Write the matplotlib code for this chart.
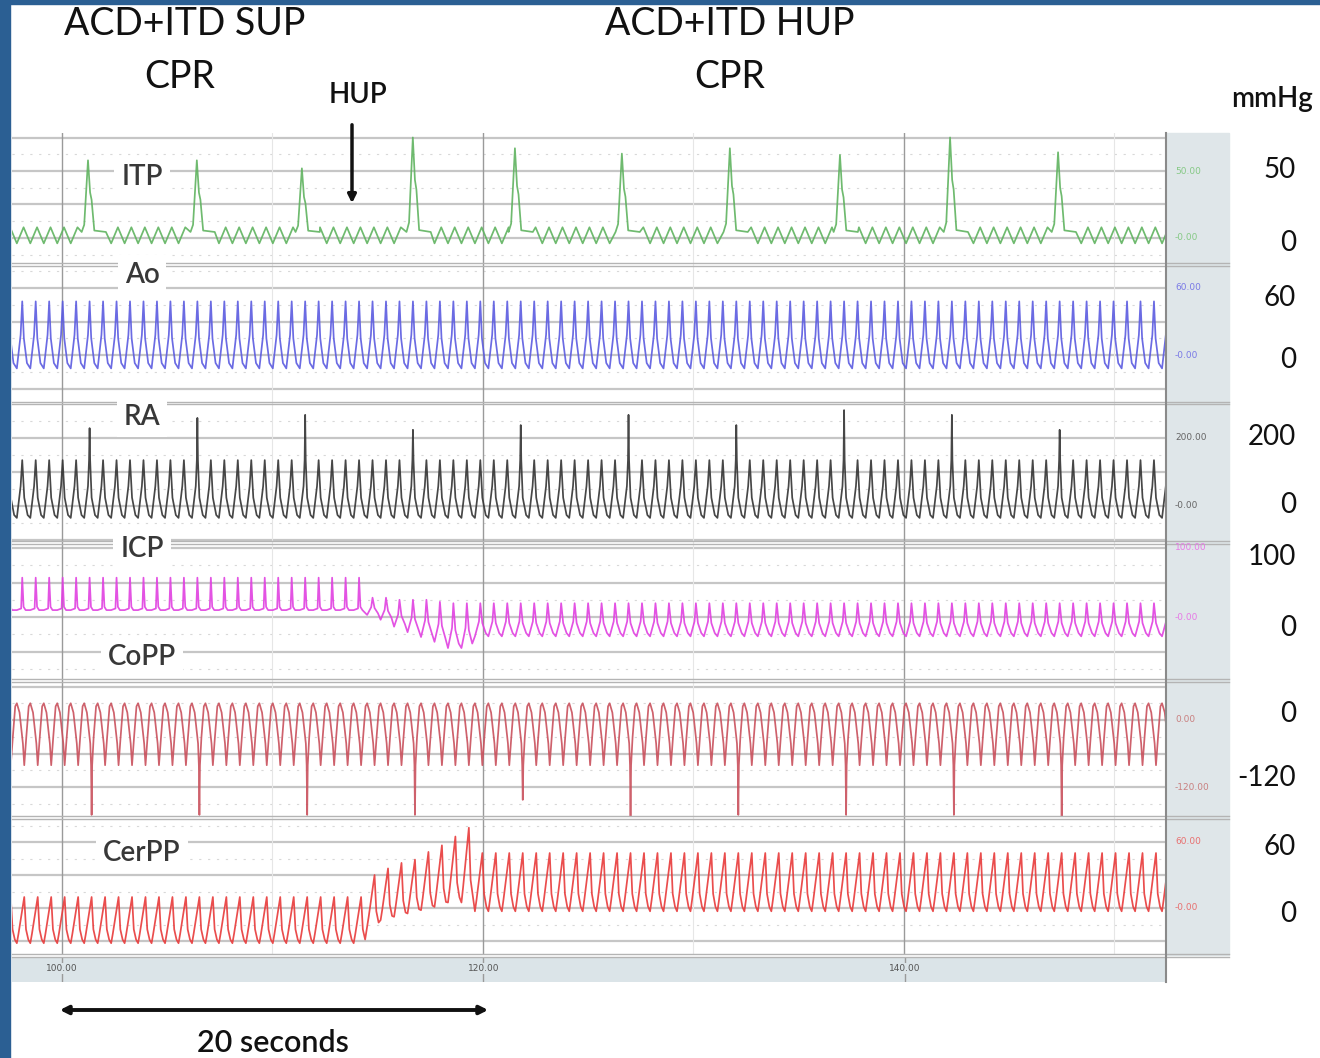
import numpy as np
import matplotlib
matplotlib.use('Agg')
import matplotlib.pyplot as plt
from matplotlib.patches import Rectangle, FancyArrowPatch

# ------------------------------------------------------------------ data
channels = ['ITP', 'Ao', 'RA', 'ICP', 'CoPP', 'CerPP']
scale_values = [(50, 0), (60, 0), (200, 0), (100, 0), (0, -120), (60, 0)]
panel_scale_text = [('50.00', '-0.00'), ('60.00', '-0.00'), ('200.00', '-0.00'),
                    ('100.00', '-0.00'), ('0.00', '-120.00'), ('60.00', '-0.00')]
right_labels = [('50', '0'), ('60', '0'), ('200', '0'), ('100', '0'), ('0', '-120'), ('60', '0')]
time_ticks = [100, 120, 140]
time_tick_labels = ['100.00', '120.00', '140.00']
minor_time_lines = [110, 130, 150]
t_range = (97.63, 152.40)

# start time (s) of each chest compression cycle
beat_starts = [97.22, 97.86, 98.50, 99.14, 99.78, 100.42, 101.06, 101.70, 102.34, 102.98,
               103.62, 104.26, 104.90, 105.54, 106.18, 106.82, 107.46, 108.10, 108.74, 109.38,
               110.02, 110.66, 111.30, 111.94, 112.58, 113.22, 113.86, 114.50, 115.14, 115.78,
               116.42, 117.06, 117.70, 118.34, 118.98, 119.62, 120.26, 120.90, 121.54, 122.18,
               122.82, 123.46, 124.10, 124.74, 125.38, 126.02, 126.66, 127.30, 127.94, 128.58,
               129.22, 129.86, 130.50, 131.14, 131.78, 132.42, 133.06, 133.70, 134.34, 134.98,
               135.62, 136.26, 136.90, 137.54, 138.18, 138.82, 139.46, 140.10, 140.74, 141.38,
               142.02, 142.66, 143.30, 143.94, 144.58, 145.22, 145.86, 146.50, 147.14, 147.78,
               148.42, 149.06, 149.70, 150.34, 150.98, 151.62, 152.26, 152.90]

hup_start, hup_end = 114.4, 119.3     # head-up positioning transition (s)

# ventilations
vent_times = [101.24, 106.41, 111.40, 116.67, 121.52, 126.60, 131.73, 136.96, 142.19, 147.32]
itp_vent_peaks = [58, 58, 52, 75, 67, 63, 67, 62, 75, 64]
spike_times = [101.57, 106.65, 111.78, 116.82, 121.85, 126.89, 132.02, 137.10, 142.28, 147.46]
ra_spikes = [229, 259, 268, 224, 238, 268, 238, 282, 268, 224]
copp_spikes = [-170, -170, -170, -170, -143, -176, -170, -170, -170, -174]

# (trough, peak) levels in mmHg
itp_ripple = (-4, 8)
itp_plateau = 4.5
ao_pre, ao_post = (-12, 48), (-12, 48)
ra_pre, ra_post = (-35, 135), (-35, 135)
icp_pre, icp_post = (10, 57), (-28, 20)
icp_trans_troughs = [3, -4, -14, -22, -29, -36, -45, -45]
icp_trans_peaks = [28, 28, 25, 25, 25, 22, 20, 20]
copp_pre, copp_post = (-81, 30), (-81, 30)
cerpp_pre, cerpp_post = (-32, 10), (-3, 50)
cerpp_trans_troughs = [-17, -11, -8, -5, -2, 1, 5, 5]
cerpp_trans_peaks = [30, 36, 41, 44, 51, 57, 65, 73]

# one-cycle wave shapes: (phase within cycle, fraction trough->peak)
shape_itp = ([0.0, 0.5], [0.0, 1.0])
shape_ao = ([0.0, 0.28, 0.40, 0.52, 0.75], [0.0, 0.5, 1.0, 0.45, 0.08])
shape_ra = ([0.0, 0.28, 0.40, 0.55, 0.80], [0.0, 0.55, 1.0, 0.35, 0.05])
shape_icp_pre = ([0.0, 0.32, 0.40, 0.50, 0.65], [0.0, 0.05, 1.0, 0.1, 0.0])
shape_icp_post = ([0.0, 0.30, 0.40, 0.55, 0.80], [0.0, 0.45, 1.0, 0.4, 0.1])
shape_copp = ([0.0, 0.20, 0.45, 0.55, 0.70, 0.88], [1.0, 0.85, 0.35, 0.0, 0.45, 0.95])
shape_cerpp = ([0.0, 0.12, 0.55, 0.68, 0.85], [0.0, 0.2, 1.0, 0.3, 0.08])
# ventilation pulse on ITP: time from peak (s), fraction of pulse height above plateau
itp_vent_dt = [-0.30, -0.18, 0.0, 0.10, 0.17, 0.30, 0.85]
itp_vent_f = [0.0, 0.1, 1.0, 0.55, 0.45, 0.02, 0.0]

colors = {'ITP': '#5fb35f', 'Ao': '#5b5be0', 'RA': '#333333', 'ICP': '#e040e0',
          'CoPP': '#c9505c', 'CerPP': '#e83a3a'}
label_colors = ['#86c986', '#7a7ae6', '#666666', '#e67ae6', '#c98080', '#e87070']

# ------------------------------------------------------------------ layout
W, H = 1320, 1058
fig = plt.figure(figsize=(W / 100, H / 100), dpi=100)
fig.patch.set_facecolor('white')


def fx(x):
    return x / W


def fy(y):
    return 1 - y / H


FONT = 'Lato'
x_left, x_right = 12, 1165
panel_tops = [133, 264, 403, 542, 680, 817]
panel_bottoms = [264, 403, 542, 680, 817, 955]
scale_rows = [(171, 238), (288, 355), (438, 506), (548, 617), (720, 787), (842, 908)]
right_rows = [(170, 243), (298, 360), (437, 505), (557, 628), (714, 778), (847, 914)]
label_pos = [177, 275, 417, 549, 657, 853]
grid_major = [[75, 50, 25, 0], [60, 30, 0, -30], [200, 100, 0, -100],
              [100, 50, 0, -50], [60, 0, -60, -120], [60, 30, 0, -30]]
grid_minor = [[62.5, 37.5, 12.5, -12.5], [75, 45, 15, -15], [250, 150, 50, -50],
              [75, 25, -25, -75], [30, -30, -90, -150], [75, 45, 15, -15]]

# slide background strips
fig.patches.append(Rectangle((0, 0), fx(10), 1, transform=fig.transFigure,
                             color='#2b5f93', zorder=0))
fig.patches.append(Rectangle((0, fy(4)), 1, 4 / H, transform=fig.transFigure,
                             color='#2b5f93', zorder=0))
# grey scale panel on the right
fig.patches.append(Rectangle((fx(1166), fy(955)), fx(1229) - fx(1166), (955 - 133) / H,
                             transform=fig.transFigure, color='#dfe6e9', zorder=0))

# ------------------------------------------------------------------ traces
starts = np.array(beat_starts)
periods = np.diff(starts)
s0 = starts[:-1]
n = len(periods)
pre = s0 < hup_start
trans = (s0 >= hup_start) & (s0 < hup_end)


def per_beat(pre_v, post_v, trans_v=None):
    a = np.where(pre, pre_v, post_v).astype(float)
    if trans_v is not None:
        a[trans] = trans_v
    return a


def nearest_beat(times, shape, use_max=True):
    ph = shape[0][int(np.argmax(shape[1]) if use_max else np.argmin(shape[1]))]
    centers = s0 + ph * periods
    return [int(np.argmin(np.abs(centers - t))) for t in times]


def build(troughs, peaks, shapes, peak_over=None, trough_over=None):
    ts, vs = [], []
    for i in range(n):
        ph, fr = shapes[i]
        for p, f in zip(ph, fr):
            t = s0[i] + p * periods[i]
            v = troughs[i] + f * (peaks[i] - troughs[i])
            d = 0.04 * periods[i]
            if f == 1.0 and peak_over and i in peak_over:
                ts += [t - d, t, t + d]
                vs += [v, peak_over[i], v]
            elif f == 0.0 and trough_over and i in trough_over:
                ts += [t - d, t, t + d]
                vs += [v, trough_over[i], v]
            else:
                ts.append(t)
                vs.append(v)
    return np.array(ts), np.array(vs)


traces = {}
# ITP
t_i, v_i = build(per_beat(itp_ripple[0], itp_ripple[0]),
                 per_beat(itp_ripple[1], itp_ripple[1]), [shape_itp] * n)
keep = np.ones(len(t_i), bool)
for tv in vent_times:
    keep &= ~((t_i > tv + itp_vent_dt[0]) & (t_i < tv + itp_vent_dt[-1]))
t_i, v_i = list(t_i[keep]), list(v_i[keep])
for tv, pk in zip(vent_times, itp_vent_peaks):
    for dt, f in zip(itp_vent_dt, itp_vent_f):
        t_i.append(tv + dt)
        v_i.append(itp_plateau + f * (pk - itp_plateau))
order = np.argsort(t_i)
traces['ITP'] = (np.array(t_i)[order], np.array(v_i)[order])

traces['Ao'] = build(per_beat(ao_pre[0], ao_post[0]), per_beat(ao_pre[1], ao_post[1]),
                     [shape_ao] * n)
ra_idx = nearest_beat(spike_times, shape_ra)
traces['RA'] = build(per_beat(ra_pre[0], ra_post[0]), per_beat(ra_pre[1], ra_post[1]),
                     [shape_ra] * n, peak_over=dict(zip(ra_idx, ra_spikes)))
traces['ICP'] = build(per_beat(icp_pre[0], icp_post[0], icp_trans_troughs),
                      per_beat(icp_pre[1], icp_post[1], icp_trans_peaks),
                      [shape_icp_pre if p else shape_icp_post for p in pre])
copp_idx = nearest_beat(spike_times, shape_copp, use_max=False)
traces['CoPP'] = build(per_beat(copp_pre[0], copp_post[0]), per_beat(copp_pre[1], copp_post[1]),
                       [shape_copp] * n, trough_over=dict(zip(copp_idx, copp_spikes)))
traces['CerPP'] = build(per_beat(cerpp_pre[0], cerpp_post[0], cerpp_trans_troughs),
                        per_beat(cerpp_pre[1], cerpp_post[1], cerpp_trans_peaks),
                        [shape_cerpp] * n)

# ------------------------------------------------------------------ panels
for k, name in enumerate(channels):
    top, bot = panel_tops[k], panel_bottoms[k]
    (v1, v2), (r1, r2) = scale_values[k], scale_rows[k]
    ppu = (r2 - r1) / (v1 - v2)
    ytop = v1 + (r1 - top) / ppu
    ybot = v2 - (bot - r2) / ppu
    ax = fig.add_axes([fx(x_left), fy(bot), fx(x_right) - fx(x_left), (bot - top) / H])
    ax.set_xlim(*t_range)
    ax.set_ylim(ybot, ytop)
    ax.set_facecolor('none')
    for s in ax.spines.values():
        s.set_visible(False)
    ax.set_xticks([])
    ax.set_yticks([])
    for g in grid_major[k]:
        ax.axhline(g, color='#c6c6c6', lw=1.6, zorder=0)
    for g in grid_minor[k]:
        ax.axhline(g, color='#d8d8d8', lw=0.8, ls=(0, (2, 6)), zorder=0)
    for t in time_ticks:
        ax.axvline(t, color='#9a9a9a', lw=1.0, zorder=0.5)
    for t in minor_time_lines:
        ax.axvline(t, color='#e6e6e6', lw=0.8, zorder=0.4)
    tt, vv = traces[name]
    ax.plot(tt, vv, color=colors[name], lw=1.25, alpha=0.9, zorder=2)

    # separator lines
    for yy in (bot - 1.5, bot + 1.5):
        fig.add_artist(plt.Line2D([fx(x_left), fx(1229)], [fy(yy), fy(yy)],
                                  color='#b4b4b4', lw=1.0, transform=fig.transFigure))
    # channel label (above separators)
    fig.text(fx(142), fy(label_pos[k]), name, ha='center', va='center', fontsize=20,
             family=FONT, fontweight='semibold', color='#383838', zorder=10,
             bbox=dict(boxstyle='square,pad=0.25', fc='white', ec='none'))
    # small scale labels in the grey panel
    for txt, row in zip(panel_scale_text[k], scale_rows[k]):
        fig.text(fx(1175), fy(row), txt, ha='left', va='center', fontsize=6.5,
                 color=label_colors[k], family='DejaVu Sans')
    # big right labels
    for txt, row in zip(right_labels[k], right_rows[k]):
        fig.text(fx(1296), fy(row), txt, ha='right', va='center', fontsize=20,
                 family=FONT, color='#111111')

# vertical frame line between traces and scale panel
fig.add_artist(plt.Line2D([fx(1166), fx(1166)], [fy(133), fy(982)], color='#8a8a8a',
                          lw=1.5, transform=fig.transFigure))

# time band
axt = fig.add_axes([fx(x_left), fy(982), fx(1166) - fx(x_left), 25 / H])
axt.set_xlim(*t_range)
axt.set_ylim(0, 1)
axt.set_facecolor('#dbe4e8')
for s in axt.spines.values():
    s.set_visible(False)
axt.set_xticks([])
axt.set_yticks([])
for t, lab in zip(time_ticks, time_tick_labels):
    axt.axvline(t, color='#9a9a9a', lw=1.0)
    axt.text(t, 0.55, lab, ha='center', va='center', fontsize=6.5, color='#555555',
             family='DejaVu Sans', bbox=dict(boxstyle='square,pad=0.1', fc='#dbe4e8', ec='none'))

# ------------------------------------------------------------------ annotations
fig.text(fx(185), fy(24), 'ACD+ITD SUP', ha='center', va='center', fontsize=27,
         family=FONT, color='#111111')
fig.text(fx(180), fy(77), 'CPR', ha='center', va='center', fontsize=27,
         family=FONT, color='#111111')
fig.text(fx(730), fy(24), 'ACD+ITD HUP', ha='center', va='center', fontsize=27,
         family=FONT, color='#111111')
fig.text(fx(730), fy(77), 'CPR', ha='center', va='center', fontsize=27,
         family=FONT, color='#111111')
fig.text(fx(358), fy(95), 'HUP', ha='center', va='center', fontsize=20,
         family=FONT, fontweight='semibold', color='#111111')
fig.text(fx(1272), fy(99), 'mmHg', ha='center', va='center', fontsize=20,
         family=FONT, fontweight='semibold', color='#111111')
fig.text(fx(273), fy(1043), '20 seconds', ha='center', va='center', fontsize=22,
         family=FONT, fontweight='semibold', color='#111111')

fig.add_artist(FancyArrowPatch((fx(352), fy(122)), (fx(352), fy(206)),
                               transform=fig.transFigure, arrowstyle='-|>',
                               mutation_scale=12, lw=2.5, color='#111111'))
fig.add_artist(FancyArrowPatch((fx(57), fy(1010)), (fx(491), fy(1010)),
                               transform=fig.transFigure, arrowstyle='<|-|>',
                               mutation_scale=12, lw=2.8, color='#111111'))

fig.savefig('out.png', dpi=100, facecolor='white')
